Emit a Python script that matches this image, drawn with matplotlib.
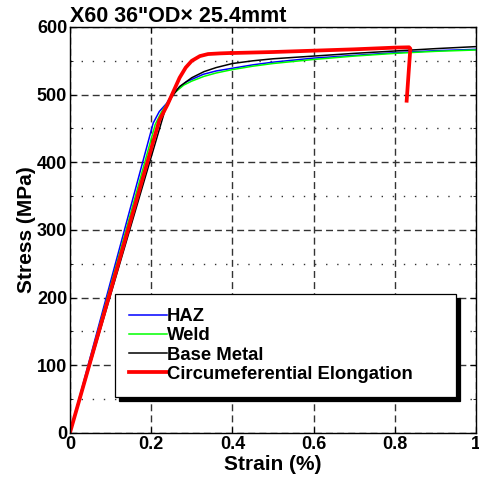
import numpy as np
import matplotlib.pyplot as plt
from matplotlib.ticker import MultipleLocator

plt.rcParams['font.family'] = ['Liberation Sans', 'DejaVu Sans']
plt.rcParams['font.weight'] = 'bold'

# data --------------------------------------------------
haz_strain = [0, 0.205, 0.22, 0.238, 0.254, 0.287, 0.328, 0.36, 0.40, 0.45, 0.50, 0.60, 0.70, 0.80, 0.90, 1.0]
haz_stress = [0, 458, 475, 487, 503, 519, 530, 535, 539, 544, 548, 554, 558, 562, 565, 567]

weld_strain = [0, 0.21, 0.225, 0.24, 0.256, 0.28, 0.30, 0.33, 0.36, 0.40, 0.45, 0.50, 0.60, 0.70, 0.80, 0.90, 1.0]
weld_stress = [0, 456, 474, 488, 502, 514, 520, 527, 532, 537, 542, 546, 552, 557, 561, 564, 566]

base_strain = [0, 0.234, 0.25, 0.27, 0.30, 0.33, 0.36, 0.40, 0.45, 0.50, 0.60, 0.70, 0.80, 0.90, 1.0]
base_stress = [0, 477, 496, 512, 525, 534, 540, 546, 550, 553, 557, 561, 564.5, 568, 571]

circ_strain = [0, 0.22, 0.24, 0.255, 0.27, 0.285, 0.30, 0.32, 0.34, 0.37, 0.393, np.nan,
               0.399, 0.5, 0.6, 0.7, 0.8, 0.835, 0.838, 0.829]
circ_stress = [0, 462, 485, 505, 525, 540, 550, 557, 560, 561, 561.5, np.nan,
               561.5, 563, 565, 567, 569.5, 570, 568, 491]

x_ticklabels = ['0', '0.2', '0.4', '0.6', '0.8', '1']

#--------------------------------------------------------
fig = plt.figure(figsize=(4.79, 4.82), dpi=100)
ax = fig.add_axes([0.146, 0.102, 0.848, 0.842])

ax.plot(haz_strain, haz_stress, color='#0000ff', lw=1.1, label='HAZ')
ax.plot(weld_strain, weld_stress, color='#00ff00', lw=1.1, label='Weld')
ax.plot(base_strain, base_stress, color='black', lw=1.1, label='Base Metal')
ax.plot(circ_strain, circ_stress, color='#ff0000', lw=2.7, label='Circumeferential Elongation')

ax.set_xlim(0, 1)
ax.set_ylim(0, 600)
ax.set_xticks([0, 0.2, 0.4, 0.6, 0.8, 1.0])
ax.set_xticklabels(x_ticklabels)
ax.yaxis.set_major_locator(MultipleLocator(100))
ax.yaxis.set_minor_locator(MultipleLocator(50))

ax.grid(True, which='major', color='#333333', linestyle=(0, (5, 3)), lw=1.0)
ax.grid(True, which='minor', axis='y', color='#333333', linestyle=(0, (1, 7)), lw=1.0)
ax.set_axisbelow(True)

ax.tick_params(which='both', direction='in', top=True, right=True, labelsize=13, pad=2)
ax.tick_params(which='major', length=4)
ax.tick_params(which='minor', length=2)
for s in ax.spines.values():
    s.set_linewidth(1.0)

ax.set_xlabel('Strain (%)', fontsize=15, fontweight='bold', labelpad=2)
ax.set_ylabel('Stress (MPa)', fontsize=15, fontweight='bold', labelpad=1)
ax.set_title('X60 36"OD\u00d7 25.4mmt', loc='left', fontsize=15.5, fontweight='bold', pad=1)

leg = ax.legend(loc='lower left', bbox_to_anchor=(0.111, 0.089, 0.84, 0.25), mode='expand',
                fancybox=False, edgecolor='black', framealpha=1,
                shadow={'color': 'black', 'alpha': 1, 'ox': 2.8, 'oy': -2.8},
                prop={'weight': 'bold', 'size': 13.3},
                handlelength=2.05, handletextpad=0.0, labelspacing=0.12,
                borderpad=0.75, borderaxespad=0)
leg.get_frame().set_linewidth(0.9)

plt.savefig('out.png', dpi=100)
